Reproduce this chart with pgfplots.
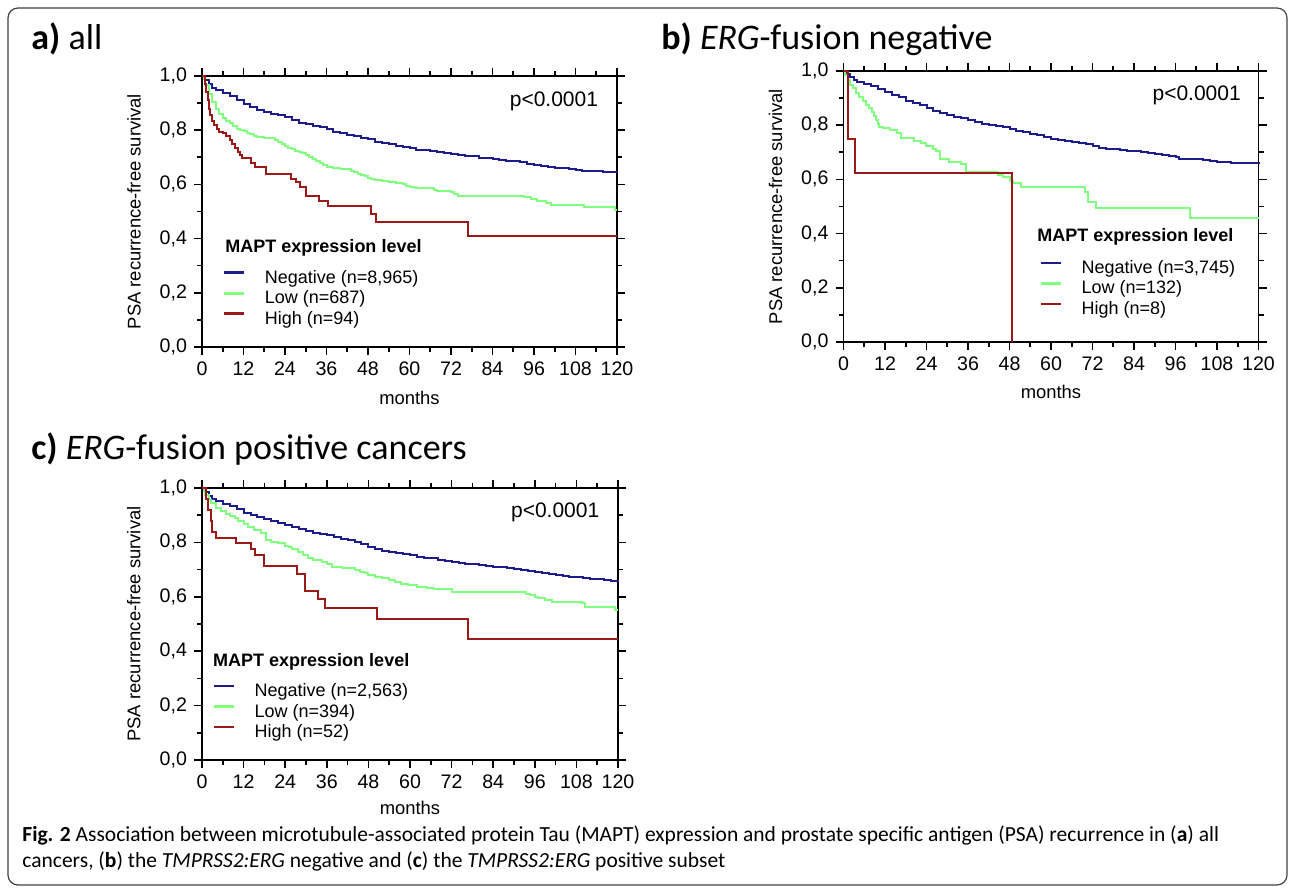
\documentclass[border=0pt]{standalone}
\usepackage{fontspec}
\setmainfont{Liberation Sans}
\newfontfamily\calfont{Carlito}
\usepackage{pgfplots}
\pgfplotsset{compat=1.18}
\definecolor{cneg}{RGB}{28,28,140}
\definecolor{clow}{RGB}{128,255,128}
\definecolor{chigh}{RGB}{155,25,25}
\newcommand{\fs}[1]{\fontsize{#1}{#1}\selectfont}
\pgfkeys{/pgf/number format/assume math mode=true}
\pgfplotsset{
 kmaxis/.style={
  scale only axis, width=207.5pt, height=135.5pt,
  xmin=0, xmax=120, ymin=0, ymax=1,
  xtick={0,12,...,120}, minor xtick={6,18,...,114},
  ytick={0,0.2,0.4,0.6,0.8,1.0}, minor ytick={0.1,0.3,0.5,0.7,0.9},
  tick align=outside, major tick length=4pt, minor tick length=2.5pt,
  axis line style={line width=0.9pt},
  tick style={black, line width=0.8pt},
  tick label style={font=\fs{9.8}},
  yticklabel style={/pgf/number format/.cd, use comma, fixed, fixed zerofill, precision=1},
  xticklabel style={/pgf/number format/.cd, fixed, precision=0},
  ylabel={PSA recurrence-free survival},
  ylabel style={font=\fs{9.2}, at={(rel axis cs:-0.164,0.5)}, anchor=center},
  xlabel={months},
  xlabel style={font=\fs{9.2}, anchor=center},
  clip=false,
  legend cell align=left,
  legend style={draw=none, fill=none, font=\fs{9}, inner sep=0pt, outer sep=0pt,
    row sep=1.75pt, nodes={inner sep=0pt, text height=6.5pt, text depth=2pt},
    /tikz/every odd column/.append style={column sep=9.5pt}, anchor=north west},
  legend image code/.code={\draw[#1, line width=1.4pt] (0pt,3pt) -- (10pt,3pt);},
  every axis plot/.append style={const plot, line width=1pt, mark=none},
 }
}
\begin{document}
\begin{tikzpicture}
\useasboundingbox (0pt,0pt) rectangle (645pt,445pt);
\draw[rounded corners=5pt, line width=0.6pt, black!75] (4pt,2.5pt) rectangle (643.5pt,441pt);
% titles
\node[anchor=base west, inner sep=0pt, font=\calfont\fs{18}] at (15.5pt,420pt) {\textbf{a)} all};
\node[anchor=base west, inner sep=0pt, font=\calfont\fs{18}] at (330.5pt,420pt) {\textbf{b)} \textit{ERG}-fusion negative};
\node[anchor=base west, inner sep=0pt, font=\calfont\fs{18}] at (15.5pt,215pt) {\textbf{c)} \textit{ERG}-fusion positive cancers};
% caption
\node[anchor=base west, inner sep=0pt, font=\calfont\fs{10.75}] at (11pt,24.5pt) {\textbf{Fig. 2} Association between microtubule-associated protein Tau (MAPT) expression and prostate specific antigen (PSA) recurrence in (\textbf{a}) all};
\node[anchor=base west, inner sep=0pt, font=\calfont\fs{10.75}] at (11pt,11.5pt) {cancers, (\textbf{b}) the \textit{TMPRSS2:ERG} negative and (\textbf{c}) the \textit{TMPRSS2:ERG} positive subset};

% ---------------- panel a
\begin{axis}[kmaxis, at={(101pt,271.5pt)}, anchor=south west,
  xlabel style={at={(rel axis cs:0.5,-0.189)}},
  legend style={at={(0.0507,0.283)}}]
\addplot[cneg] coordinates {(0,1) (1,0.985) (2,0.97) (3,0.955) (4,0.947) (6,0.938) (8,0.928) (10,0.913) (12,0.897) (14,0.885) (16,0.875) (18,0.867) (20,0.86) (22,0.855) (24,0.847) (26,0.836) (28,0.828) (30,0.822) (32,0.815) (34,0.81) (36,0.803) (38,0.795) (40,0.788) (42,0.783) (44,0.778) (46,0.772) (48,0.766) (50,0.758) (52,0.752) (54,0.748) (56,0.743) (58,0.738) (60,0.733) (62,0.728) (64,0.726) (66,0.723) (68,0.72) (70,0.716) (72,0.712) (74,0.707) (76,0.705) (78,0.703) (80,0.699) (82,0.696) (84,0.694) (86,0.691) (88,0.688) (90,0.685) (92,0.681) (94,0.677) (96,0.672) (98,0.667) (100,0.664) (102,0.662) (104,0.66) (106,0.656) (108,0.653) (110,0.651) (112,0.651) (114,0.649) (116,0.647) (118,0.645) (120,0.642)};
\addlegendentry{Negative (n=8,965)}
\addplot[clow] coordinates {(0,1) (0.5,0.99) (1,0.965) (2,0.935) (3,0.905) (4,0.88) (5,0.86) (6,0.845) (7,0.835) (8,0.825) (9,0.815) (10,0.806) (11,0.8) (12,0.797) (13,0.79) (14,0.785) (15,0.78) (16,0.775) (18,0.77) (21,0.765) (22,0.758) (23,0.75) (24,0.742) (25,0.736) (26,0.73) (27,0.725) (28,0.72) (29,0.715) (30,0.708) (31,0.7) (32,0.693) (33,0.686) (34,0.678) (35,0.67) (36,0.664) (38,0.66) (40,0.657) (42,0.655) (43,0.65) (44,0.645) (45,0.64) (46,0.635) (47,0.63) (48,0.625) (49,0.62) (50,0.616) (52,0.613) (54,0.61) (56,0.606) (58,0.6) (59,0.595) (60,0.59) (62,0.588) (64,0.586) (66,0.585) (67,0.58) (68,0.577) (70,0.575) (72,0.572) (73,0.565) (74,0.558) (93,0.552) (95,0.546) (97,0.54) (99.5,0.533) (101,0.525) (110.5,0.516) (119.5,0.507) (120,0.507)};
\addlegendentry{Low (n=687)}
\addplot[chigh] coordinates {(0,1) (0.8,0.97) (1.2,0.94) (1.6,0.91) (2,0.88) (2.4,0.855) (2.8,0.835) (3.5,0.82) (4.2,0.805) (5,0.795) (6,0.79) (7,0.78) (8,0.765) (8.7,0.748) (9.5,0.735) (10.3,0.72) (11,0.708) (11.6,0.698) (14.3,0.68) (15.3,0.665) (18.5,0.637) (25.6,0.62) (27.3,0.607) (28.4,0.59) (30.2,0.557) (33.8,0.538) (36.3,0.52) (48.8,0.49) (50.2,0.46) (76.8,0.41) (120,0.41)};
\addlegendentry{High (n=94)}
\node[anchor=west, inner sep=0pt, font=\bfseries\fs{9}] at (rel axis cs:0.0556,0.367) {MAPT expression level};
\node[anchor=center, inner sep=0pt, font=\fs{10.5}] at (rel axis cs:0.848,0.907) {p<0.0001};
\end{axis}

% ---------------- panel b
\begin{axis}[kmaxis, at={(421.75pt,274pt)}, anchor=south west,
  xlabel style={at={(rel axis cs:0.5,-0.185)}},
  legend style={at={(0.473,0.301)}}]
\addplot[cneg] coordinates {(0,1) (1,0.99) (2,0.978) (3,0.968) (4,0.96) (6,0.952) (8,0.943) (10,0.933) (12,0.924) (14,0.913) (16,0.903) (18,0.891) (20,0.882) (22,0.873) (24,0.862) (26,0.853) (28,0.846) (30,0.839) (32,0.832) (34,0.826) (36,0.819) (38,0.813) (40,0.806) (42,0.8) (44,0.796) (46,0.792) (48,0.787) (50,0.78) (52,0.774) (54,0.768) (56,0.762) (58,0.756) (60,0.75) (62,0.744) (64,0.742) (66,0.738) (68,0.734) (70,0.729) (72,0.722) (74,0.716) (76,0.713) (78,0.711) (80,0.709) (82,0.706) (84,0.703) (86,0.7) (88,0.697) (90,0.693) (92,0.69) (94,0.688) (96,0.683) (97,0.677) (100,0.676) (102,0.674) (104,0.672) (106,0.668) (108,0.665) (110,0.663) (112,0.662) (114,0.661) (116,0.66) (118,0.659) (120,0.658)};
\addlegendentry{Negative (n=3,745)}
\addplot[clow] coordinates {(0,1) (0.5,0.985) (1.3,0.967) (2,0.95) (2.7,0.936) (3.5,0.92) (4.6,0.905) (5.5,0.89) (6.6,0.874) (7.5,0.862) (8.3,0.85) (8.8,0.835) (9.3,0.82) (9.9,0.805) (10.4,0.794) (11.4,0.788) (13.3,0.782) (15.5,0.77) (16.7,0.751) (20.5,0.742) (22.5,0.733) (23.9,0.723) (25.8,0.714) (26.8,0.706) (27.8,0.677) (30.6,0.665) (34,0.658) (35.5,0.628) (44.6,0.616) (46,0.61) (48,0.595) (49,0.585) (51.4,0.573) (69.7,0.554) (70.6,0.517) (73,0.493) (100.2,0.456) (120,0.456)};
\addlegendentry{Low (n=132)}
\addplot[chigh] coordinates {(0,1) (1.2,0.75) (3.4,0.625) (48.8,0)};
\addlegendentry{High (n=8)}
\node[anchor=west, inner sep=0pt, font=\bfseries\fs{9}] at (rel axis cs:0.466,0.387) {MAPT expression level};
\node[anchor=center, inner sep=0pt, font=\fs{10.5}] at (rel axis cs:0.851,0.911) {p<0.0001};
\end{axis}

% ---------------- panel c
\begin{axis}[kmaxis, at={(101pt,65pt)}, anchor=south west, width=208pt, height=136pt,
  xlabel style={at={(rel axis cs:0.5,-0.176)}},
  legend style={at={(0.026,0.281)}}]
\addplot[cneg] coordinates {(0,1) (1,0.985) (2,0.97) (3,0.96) (4,0.952) (6,0.943) (8,0.935) (10,0.922) (12,0.908) (14,0.9) (16,0.892) (18,0.886) (20,0.879) (22,0.871) (24,0.863) (26,0.855) (28,0.848) (30,0.842) (32,0.836) (34,0.831) (36,0.826) (38,0.82) (40,0.813) (42,0.808) (44,0.8) (46,0.793) (48,0.784) (50,0.776) (52,0.77) (54,0.765) (56,0.761) (58,0.757) (60,0.753) (62,0.748) (64,0.744) (66,0.741) (68,0.737) (70,0.733) (72,0.729) (74,0.723) (76,0.721) (78,0.719) (80,0.716) (82,0.713) (84,0.71) (86,0.708) (88,0.705) (90,0.702) (92,0.7) (94,0.696) (96,0.692) (98,0.687) (100,0.683) (102,0.679) (104,0.676) (106,0.673) (108,0.671) (110,0.669) (112,0.667) (114,0.664) (116,0.662) (118,0.658) (120,0.653)};
\addlegendentry{Negative (n=2,563)}
\addplot[clow] coordinates {(0,1) (0.5,0.99) (1,0.975) (2,0.955) (2.7,0.944) (4,0.928) (5.6,0.914) (7,0.903) (8,0.896) (9.4,0.889) (10.5,0.878) (12,0.866) (13.3,0.857) (15,0.846) (17,0.834) (18.5,0.81) (20,0.803) (22,0.797) (24,0.788) (25,0.782) (26,0.775) (27.7,0.766) (29,0.755) (30.5,0.743) (32,0.737) (34.5,0.728) (36,0.72) (37.5,0.711) (40.3,0.705) (44,0.699) (45.5,0.692) (47,0.686) (48,0.68) (50,0.674) (52,0.668) (54,0.663) (55.7,0.656) (57.5,0.648) (59.5,0.642) (62,0.637) (65,0.634) (67,0.63) (70,0.627) (72,0.619) (93.5,0.612) (94.5,0.606) (96,0.6) (97,0.594) (99,0.588) (101,0.582) (109.5,0.576) (110.6,0.564) (119,0.551) (120,0.551)};
\addlegendentry{Low (n=394)}
\addplot[chigh] coordinates {(0,1) (1.2,0.96) (1.8,0.92) (2.5,0.88) (3,0.84) (4,0.818) (9.8,0.798) (14.2,0.775) (15.2,0.752) (17.8,0.712) (27.5,0.682) (29.7,0.622) (33.5,0.592) (35.5,0.557) (50.5,0.518) (76.8,0.445) (120,0.445)};
\addlegendentry{High (n=52)}
\node[anchor=west, inner sep=0pt, font=\bfseries\fs{9}] at (rel axis cs:0.026,0.360) {MAPT expression level};
\node[anchor=center, inner sep=0pt, font=\fs{10.5}] at (rel axis cs:0.849,0.912) {p<0.0001};
\end{axis}
\end{tikzpicture}
\end{document}
